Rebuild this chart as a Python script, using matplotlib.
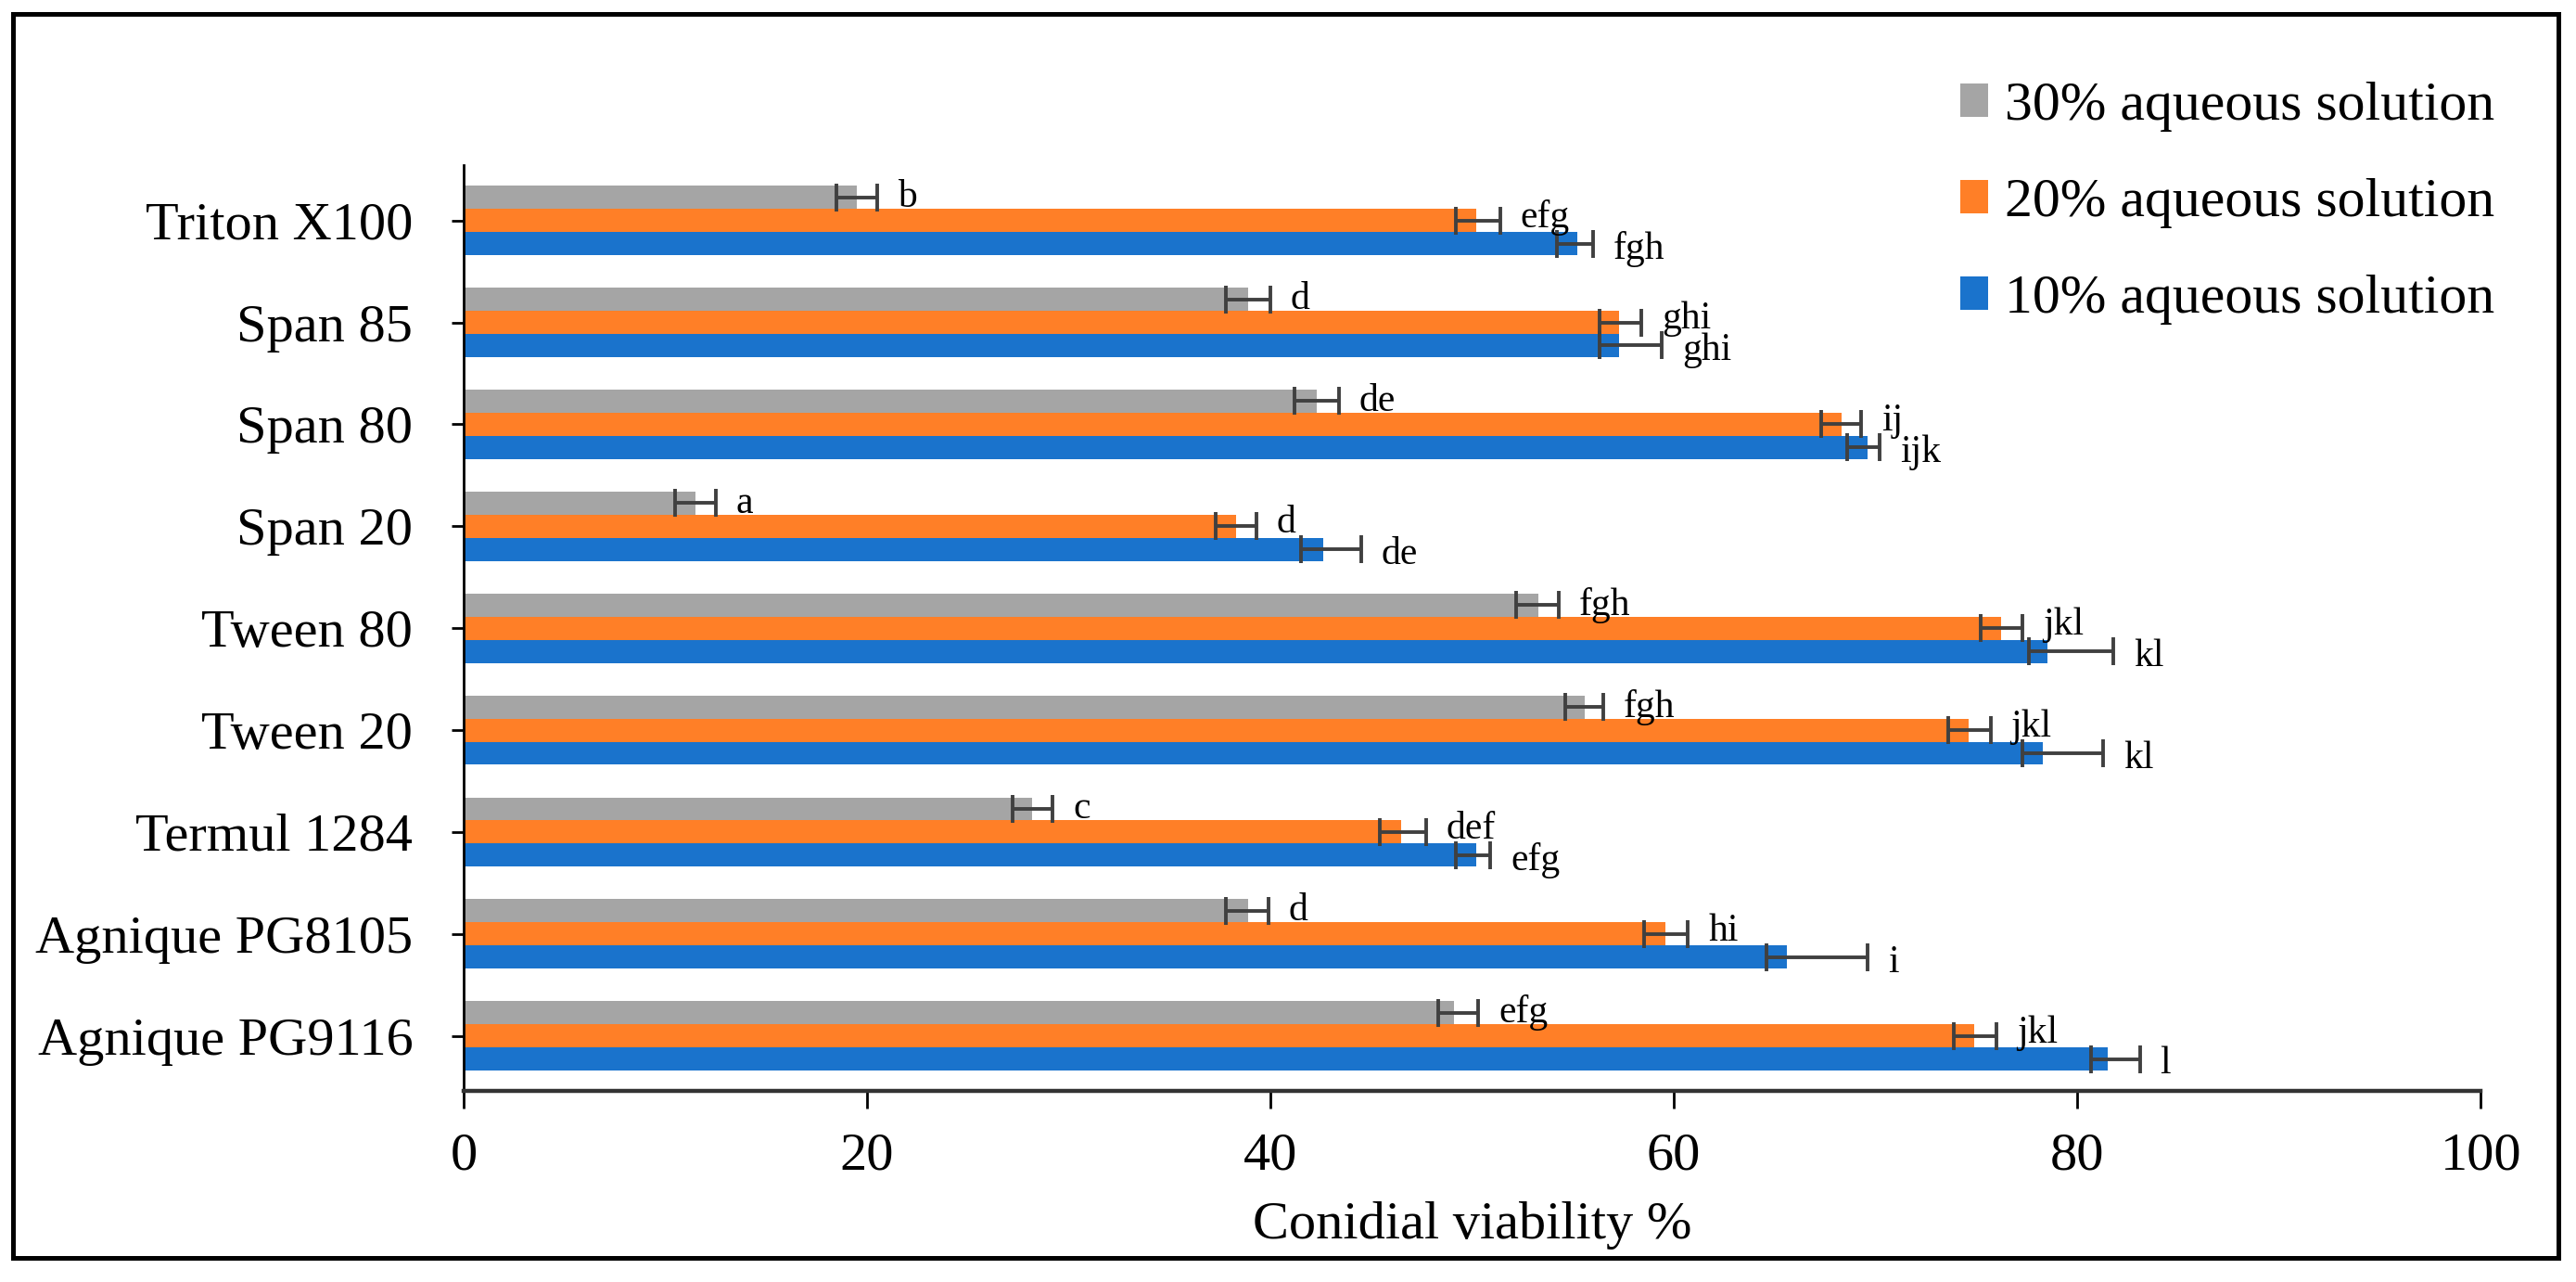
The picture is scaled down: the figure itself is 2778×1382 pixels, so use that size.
import matplotlib.pyplot as plt
import numpy as np
from matplotlib.patches import Rectangle

# categories from bottom to top (Excel order)
categories = ['Agnique PG9116', 'Agnique PG8105', 'Termul 1284', 'Tween 20', 'Tween 80',
              'Span 20', 'Span 80', 'Span 85', 'Triton X100']

series_names = ['10% aqueous solution', '20% aqueous solution', '30% aqueous solution']

# 10% aqueous solution
v10 = [81.5, 65.6, 50.2, 78.3, 78.5, 42.6, 69.6, 57.3, 55.2]
lo10 = [0.8, 1.0, 1.0, 1.0, 0.9, 1.1, 1.0, 1.0, 1.0]
hi10 = [1.6, 4.0, 0.7, 3.0, 3.3, 1.9, 0.6, 2.1, 0.8]
let10 = ['l', 'i', 'efg', 'kl', 'kl', 'de', 'ijk', 'ghi', 'fgh']

# 20% aqueous solution
v20 = [74.9, 59.6, 46.5, 74.6, 76.2, 38.3, 68.3, 57.3, 50.2]
lo20 = [1.0, 1.1, 1.1, 1.0, 1.0, 1.0, 1.0, 1.0, 1.0]
hi20 = [1.1, 1.1, 1.2, 1.1, 1.1, 1.0, 1.0, 1.1, 1.2]
let20 = ['jkl', 'hi', 'def', 'jkl', 'jkl', 'd', 'ij', 'ghi', 'efg']

# 30% aqueous solution
v30 = [49.1, 38.9, 28.2, 55.6, 53.3, 11.5, 42.3, 38.9, 19.5]
lo30 = [0.8, 1.1, 1.0, 1.0, 1.1, 1.0, 1.1, 1.1, 1.0]
hi30 = [1.2, 1.0, 1.0, 0.9, 1.0, 1.0, 1.1, 1.1, 1.0]
let30 = ['efg', 'd', 'c', 'fgh', 'fgh', 'a', 'de', 'd', 'b']

colors = ['#1A73CC', '#FF7F27', '#A5A5A5']

plt.rcParams['font.family'] = ['Liberation Serif', 'DejaVu Serif']

fig = plt.figure(figsize=(13.89, 6.91), dpi=200)
ax = fig.add_axes([0.18, 0.149, 0.783, 0.722])

y = np.arange(len(categories))
h = 0.227
offsets = [-h, 0, h]
label_dy = [-0.05, 0.03, 0.0]   # small nudge of the letters, blue a bit lower
values = [v10, v20, v30]
lows = [lo10, lo20, lo30]
highs = [hi10, hi20, hi30]
letters = [let10, let20, let30]

handles = []
for i in range(3):
    yy = y + offsets[i]
    b = ax.barh(yy, values[i], height=h, color=colors[i], label=series_names[i], zorder=2)
    handles.append(b)
    ax.errorbar(values[i], yy, xerr=[lows[i], highs[i]], fmt='none', ecolor='#404040',
                elinewidth=1.4, capsize=5.5, capthick=1.4, zorder=3)
    for k in range(len(categories)):
        ax.text(values[i][k] + highs[i][k] + 1.0, yy[k] + label_dy[i], letters[i][k],
                fontsize=15, ha='left', va='center', zorder=4)

ax.set_xlim(0, 100)
ax.set_ylim(-0.54, len(categories) - 0.46)
ax.set_xticks([0, 20, 40, 60, 80, 100])
ax.set_yticks(y)
ax.set_yticklabels(categories)
ax.tick_params(axis='y', labelsize=21, length=4.7, width=1, pad=15)
ax.tick_params(axis='x', labelsize=21, length=7, width=1, pad=9)
ax.set_xlabel('Conidial viability %', fontsize=21, labelpad=8)

ax.spines['top'].set_visible(False)
ax.spines['right'].set_visible(False)
ax.spines['left'].set_linewidth(1.0)
ax.spines['bottom'].set_linewidth(1.6)
ax.spines['bottom'].set_color('#333333')

# legend in reverse order, like Excel
fig.legend(handles[::-1], series_names[::-1], loc='upper right',
           bbox_to_anchor=(0.979, 0.958), frameon=False, fontsize=21.5,
           handlelength=0.5, handleheight=0.55, handletextpad=0.3,
           labelspacing=0.84, borderpad=0)

# outer border
fig.patches.append(Rectangle((0.005, 0.019), 0.988, 0.97, transform=fig.transFigure,
                             fill=False, edgecolor='black', linewidth=1.8))

fig.savefig('out.png', dpi=200)
